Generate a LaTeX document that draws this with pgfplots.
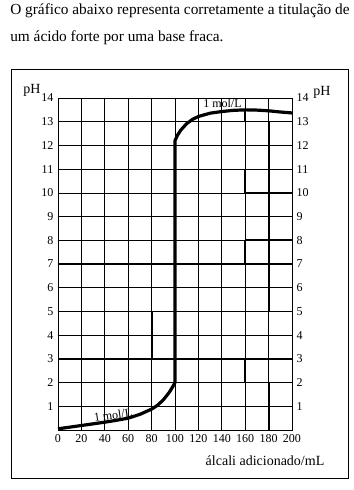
\documentclass[border=0pt]{standalone}
\usepackage{fontspec}
\setmainfont{Liberation Serif}
\usepackage{pgfplots}
\pgfplotsset{compat=1.18}
\begin{document}
\begin{tikzpicture}[x=0.75pt,y=-0.75pt]
\path[use as bounding box] (0,0) rectangle (354,490);
\node[anchor=base west, inner sep=0, font=\fontsize{11.5}{13}\selectfont] at (10,14.3) {O gráfico abaixo representa corretamente a titulação de};
\node[anchor=base west, inner sep=0, font=\fontsize{11.5}{13}\selectfont] at (10,41.7) {um ácido forte por uma base fraca.};
\draw[line width=0.75pt] (11,69) rectangle (348,478);
\node[font=\fontsize{10.5}{11}\selectfont, inner sep=0] at (32,90) {pH};
\node[font=\fontsize{10.5}{11}\selectfont, inner sep=0] at (322,92) {pH};
\node[font=\fontsize{10.5}{12}\selectfont, inner sep=0] at (265,461) {álcali adicionado/mL};
\begin{axis}[
  at={(43.5pt,-322.5pt)}, anchor=south west,
  scale only axis, width=175.5pt, height=249pt,
  xmin=0, xmax=200, ymin=0, ymax=14,
  xtick={0,20,...,200}, ytick={1,...,14},
  grid=major, major grid style={black, line width=0.5pt},
  axis line style={black, line width=0.6pt},
  major tick length=0pt,
  tick label style={font=\fontsize{9}{10}\selectfont},
  /pgf/number format/assume math mode=true,
  clip=false,
]
\addplot[black, line width=1.5pt] coordinates {(0,3) (200,3)};
\addplot[black, line width=1.5pt] coordinates {(0,7) (200,7)};
\addplot[black, line width=1.5pt] coordinates {(80,3) (80,5)};
\addplot[black, line width=1.5pt] coordinates {(160,2) (160,3)};
\addplot[black, line width=1.5pt] coordinates {(160,7) (160,8)};
\addplot[black, line width=1.5pt] coordinates {(160,10) (160,11)};
\addplot[black, line width=1.5pt] coordinates {(160,13) (160,13.5)};
\addplot[black, line width=1.5pt] coordinates {(180,0) (180,2)};
\addplot[black, line width=1.5pt] coordinates {(180,5) (180,13)};
\addplot[black, line width=1.5pt] coordinates {(160,10) (200,10)};
\addplot[black, line width=1.5pt] coordinates {(160,8) (200,8)};
\addplot[black, line width=2.4pt, line join=round] coordinates {
(0,0.05) (10,0.12) (20,0.19) (30,0.26) (40,0.33) (50,0.41) (60,0.5) (70,0.66) (80,0.88) (85,1.04) (90,1.27) (95,1.58) (98,1.82) (100,2.0)
(100,12.2) (102,12.42) (105,12.65) (110,12.92) (115,13.1) (120,13.22) (130,13.36) (140,13.43) (150,13.48) (160,13.5) (170,13.49) (180,13.46) (190,13.41) (200,13.37)};
\node[font=\fontsize{9}{10}\selectfont, inner sep=0] at (axis cs:140.6,13.78) {1 mol/L};
\node[font=\fontsize{9}{10}\selectfont, inner sep=0, rotate=8] at (axis cs:47,0.64) {1 mol/L};
\end{axis}
\begin{axis}[
  at={(43.5pt,-322.5pt)}, anchor=south west,
  scale only axis, width=175.5pt, height=249pt,
  xmin=0, xmax=200, ymin=0, ymax=14,
  xtick=\empty, ytick={1,...,14},
  yticklabel pos=right,
  axis line style={draw=none},
  major tick length=0pt,
  tick label style={font=\fontsize{9}{10}\selectfont},
  /pgf/number format/assume math mode=true,
]
\end{axis}
\end{tikzpicture}
\end{document}
